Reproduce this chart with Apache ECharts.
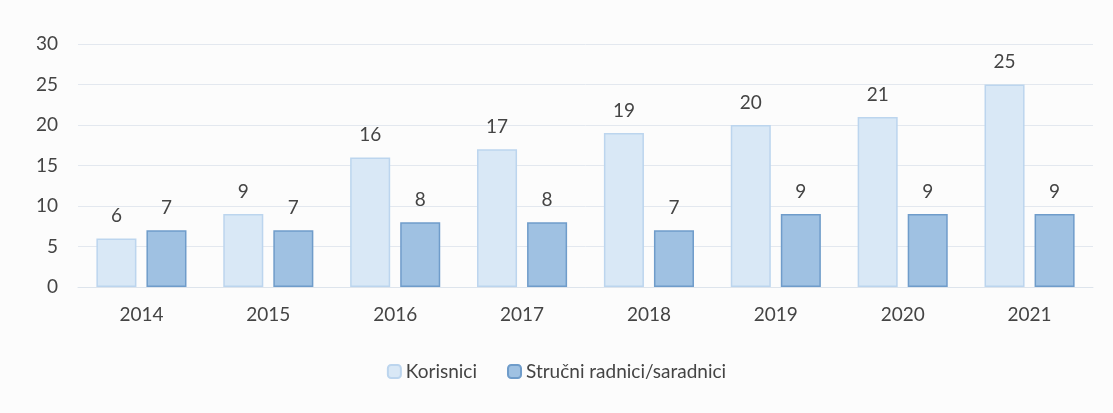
<!DOCTYPE html>
<html><head><meta charset="utf-8">
<script src="https://cdn.jsdelivr.net/npm/echarts@6/dist/echarts.min.js"></script>
<style>html,body{margin:0;padding:0;background:#fcfcfc;}#c{width:1113px;height:413px;}</style>
</head><body><div id="c"></div>
<script>
const categories = ['2014','2015','2016','2017','2018','2019','2020','2021'];
const korisnici = [6, 9, 16, 17, 19, 20, 21, 25];
const strucni = [7, 7, 8, 8, 7, 9, 9, 9];
const yTicks = [0, 5, 10, 15, 20, 25, 30];
const seriesNames = ['Korisnici', 'Stručni radnici/saradnici'];

const chart = echarts.init(document.getElementById('c'));
const font = 'Lato, "Open Sans", sans-serif';
chart.setOption({
  backgroundColor: '#fcfcfc',
  animation: false,
  textStyle: { fontFamily: font },
  grid: { left: 78, right: 20, top: 44, bottom: 126 },
  legend: {
    bottom: 27, left: 'center', itemWidth: 13, itemHeight: 13, itemGap: 30,
    textStyle: { fontSize: 19, color: '#444', fontFamily: font },
    data: seriesNames
  },
  xAxis: {
    type: 'category', data: categories,
    axisLine: { show: true, lineStyle: { color: '#dde4ec' } },
    axisTick: { show: false },
    axisLabel: { fontSize: 19, color: '#444', margin: 18 }
  },
  yAxis: {
    type: 'value', min: yTicks[0], max: yTicks[yTicks.length - 1], interval: 5,
    axisLabel: { fontSize: 19, color: '#444', margin: 20 },
    splitLine: { lineStyle: { color: '#e3e8ef' } },
    axisLine: { show: false }, axisTick: { show: false }
  },
  series: [
    {
      name: seriesNames[0], type: 'bar', data: korisnici,
      barGap: '25%', barCategoryGap: '29%',
      itemStyle: { color: '#d9e8f6', borderColor: '#bcd5ee', borderWidth: 1.5 },
      label: { show: true, position: 'top', distance: 13, fontSize: 19, color: '#444' }
    },
    {
      name: seriesNames[1], type: 'bar', data: strucni,
      itemStyle: { color: '#9fc1e2', borderColor: '#6f9cca', borderWidth: 1.5 },
      label: { show: true, position: 'top', distance: 13, fontSize: 19, color: '#444' }
    }
  ]
});
</script>
</body></html>
